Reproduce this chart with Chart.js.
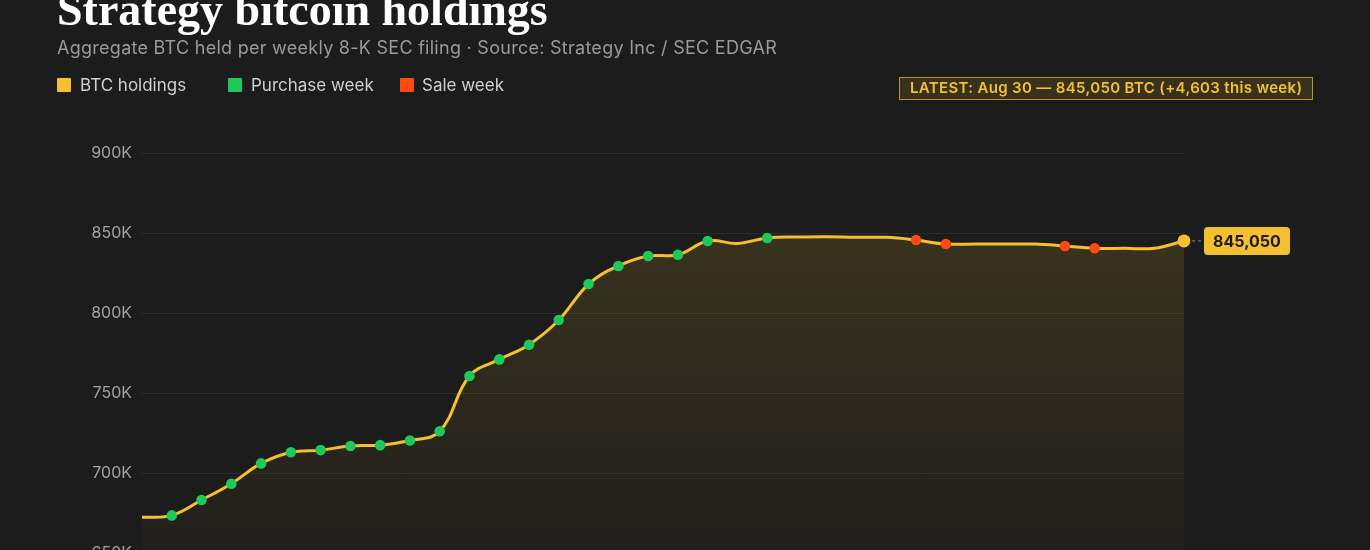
<!DOCTYPE html>
<html>
<head>
<meta charset="utf-8">
<title>Strategy bitcoin holdings</title>
<script src="https://cdn.jsdelivr.net/npm/chart.js@4.4.1/dist/chart.umd.min.js"></script>
<style>
    html, body { margin: 0; padding: 0; background: #1c1c1c; overflow: hidden; width: 1370px; height: 550px; }
    #wrap { position: relative; width: 1370px; height: 550px; overflow: hidden; }
    #btcChart { position: absolute; left: 0; top: 0; }
    .txt { position: absolute; white-space: nowrap; line-height: 1; }
    .title { left: 57px; top: -17.5px; font: bold 46px "Liberation Serif", serif; color: #ffffff; }
    .subtitle { left: 57px; top: 37px; font: 18px Inter, sans-serif; letter-spacing: 0.27px; color: #9a9a9a; }
    .legend-txt { top: 75px; font: 17px Inter, sans-serif; color: #cfcfcf; }
    .swatch { position: absolute; top: 78px; width: 13.5px; height: 13.5px; border-radius: 1px; }
    .latest-box { position: absolute; left: 899px; top: 77px; width: 412px; height: 21px; border: 1px solid #b8922a; background: rgba(245, 192, 47, 0.13); }
    .latest-txt { left: 910px; top: 77.5px; font: 600 15px Inter, sans-serif; letter-spacing: 0.34px; color: #f5c02f; }
</style>
</head>
<body>
<div id="wrap">
    <canvas id="btcChart" width="1370" height="620"></canvas>
    <div class="txt title">Strategy bitcoin holdings</div>
    <div class="txt subtitle">Aggregate BTC held per weekly 8-K SEC filing · Source: Strategy Inc / SEC EDGAR</div>
    <div class="swatch" style="left:57px;background:#f5c02f"></div>
    <div class="txt legend-txt" style="left:80px">BTC holdings</div>
    <div class="swatch" style="left:228px;background:#1ec85a"></div>
    <div class="txt legend-txt" style="left:251px">Purchase week</div>
    <div class="swatch" style="left:400px;background:#ff4a12"></div>
    <div class="txt legend-txt" style="left:422px">Sale week</div>
    <div class="latest-box"></div>
    <div class="txt latest-txt">LATEST: Aug 30 — 845,050 BTC (+4,603 this week)</div>
</div>
<script>
// week ending dates (filing weeks)
const weeks = [
    'Dec 28', 'Jan 4', 'Jan 11', 'Jan 18', 'Jan 25', 'Feb 1', 'Feb 8', 'Feb 15', 'Feb 22',
    'Mar 1', 'Mar 8', 'Mar 15', 'Mar 22', 'Mar 29', 'Apr 5', 'Apr 12', 'Apr 19', 'Apr 26',
    'May 3', 'May 10', 'May 17', 'May 24', 'May 31', 'Jun 7', 'Jun 14', 'Jun 21', 'Jun 28',
    'Jul 5', 'Jul 12', 'Jul 19', 'Jul 26', 'Aug 2', 'Aug 9', 'Aug 16', 'Aug 23', 'Aug 30'
];

// total BTC held at each filing
const holdings = [
    672300, 673500, 683100, 693300, 706000, 713000, 714300, 716900, 717400,
    720300, 726100, 760600, 771000, 780200, 795600, 818100, 829400, 835600,
    836400, 845000, 843500, 846900, 847500, 847700, 847300, 847300, 845600,
    843100, 843100, 843100, 843100, 841900, 840447, 840447, 840447, 845050
];

// what kind of week it was: buy / sell / none / last
const weekType = [
    'none', 'buy', 'buy', 'buy', 'buy', 'buy', 'buy', 'buy', 'buy',
    'buy', 'buy', 'buy', 'buy', 'buy', 'buy', 'buy', 'buy', 'buy',
    'buy', 'buy', 'none', 'buy', 'none', 'none', 'none', 'none', 'sell',
    'sell', 'none', 'none', 'none', 'sell', 'sell', 'none', 'none', 'last'
];

const yTicks = [650000, 700000, 750000, 800000, 850000, 900000];

const GOLD = '#f5c02f';
const GREEN = '#1ec85a';
const RED = '#ff4a12';

const pointColors = weekType.map(t => t === 'buy' ? GREEN : t === 'sell' ? RED : t === 'last' ? GOLD : 'rgba(0,0,0,0)');
const pointSizes = weekType.map(t => t === 'none' ? 0 : t === 'last' ? 6.5 : 5.3);

// label pinned to the last point
const lastLabelPlugin = {
    id: 'lastLabel',
    afterDatasetsDraw: function(chart) {
        const ctx = chart.ctx;
        const meta = chart.getDatasetMeta(0);
        const pt = meta.data[meta.data.length - 1];
        const value = holdings[holdings.length - 1];
        const text = value.toLocaleString('en-US');
        ctx.save();
        ctx.strokeStyle = '#8a8a8a';
        ctx.lineWidth = 1;
        ctx.setLineDash([3, 3]);
        ctx.beginPath();
        ctx.moveTo(pt.x + 8, pt.y);
        ctx.lineTo(pt.x + 20, pt.y);
        ctx.stroke();
        ctx.setLineDash([]);
        const bx = pt.x + 20, bw = 86, bh = 28;
        ctx.fillStyle = GOLD;
        ctx.beginPath();
        ctx.roundRect(bx, pt.y - bh / 2, bw, bh, 4);
        ctx.fill();
        ctx.fillStyle = '#1c1c1c';
        ctx.font = 'bold 16px Inter';
        ctx.textAlign = 'center';
        ctx.textBaseline = 'middle';
        ctx.fillText(text, bx + bw / 2, pt.y + 1);
        ctx.restore();
    }
};

const ctx = document.getElementById('btcChart').getContext('2d');
const btcChart = new Chart(ctx, {
    type: 'line',
    data: {
        labels: weeks,
        datasets: [{
            label: 'BTC holdings',
            data: holdings,
            borderColor: GOLD,
            borderWidth: 3,
            tension: 0.4,
            fill: 'start',
            backgroundColor: function(context) {
                const area = context.chart.chartArea;
                if (!area) return 'rgba(245,192,47,0.1)';
                const g = context.chart.ctx.createLinearGradient(0, area.top, 0, area.bottom);
                g.addColorStop(0, 'rgba(245,192,47,0.17)');
                g.addColorStop(1, 'rgba(245,192,47,0.02)');
                return g;
            },
            pointBackgroundColor: pointColors,
            pointBorderWidth: 0,
            pointRadius: pointSizes,
            pointHoverRadius: pointSizes
        }]
    },
    options: {
        responsive: false,
        animation: false,
        layout: {
            padding: { top: 153, right: 186, bottom: 27, left: 0 }
        },
        scales: {
            y: {
                min: yTicks[0],
                max: yTicks[yTicks.length - 1],
                afterFit: function(scale) { scale.width = 142; },
                border: { display: false },
                grid: { color: '#2c2c2c', drawTicks: false },
                ticks: {
                    stepSize: 50000,
                    padding: 10,
                    color: '#a3a3a3',
                    font: { family: 'Inter', size: 16 },
                    callback: v => (v / 1000) + 'K'
                }
            },
            x: {
                afterFit: function(scale) { scale.height = 40; },
                border: { display: false },
                grid: { display: false },
                ticks: { color: '#a3a3a3', font: { family: 'Inter', size: 13 }, maxRotation: 0 }
            }
        },
        plugins: {
            legend: { display: false },
            tooltip: { enabled: false }
        }
    },
    plugins: [lastLabelPlugin]
});
</script>
</body>
</html>
